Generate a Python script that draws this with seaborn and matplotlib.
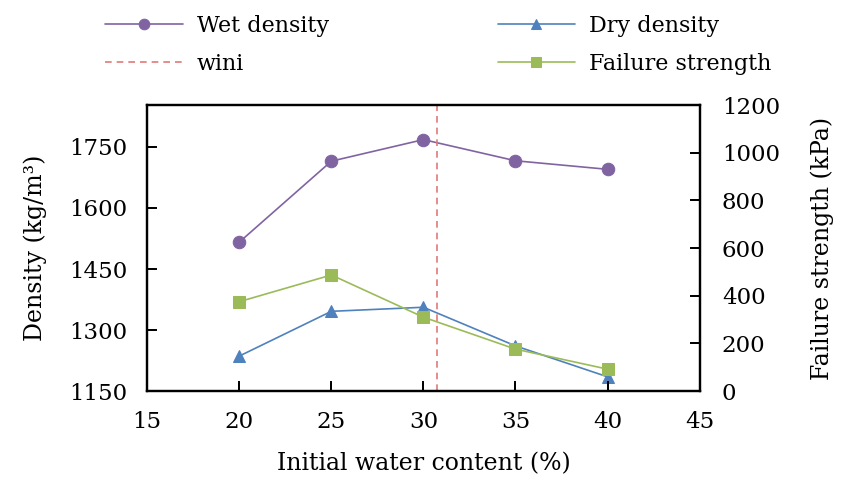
import matplotlib
matplotlib.use("Agg")
import matplotlib.pyplot as plt
import seaborn as sns
import pandas as pd

water = [20, 25, 30, 35, 40]
wet_density = [1516, 1715, 1768, 1716, 1695]
dry_density = [1236, 1346, 1356, 1261, 1185]
failure_strength = [375, 487, 310, 176, 92]
w_ini = 30.72

x_ticks = [15, 20, 25, 30, 35, 40, 45]
left_ticks = [1150, 1300, 1450, 1600, 1750]
right_ticks = [0, 200, 400, 600, 800, 1000, 1200]

sns.set_theme(style="ticks")
plt.rcParams['font.family'] = ['DejaVu Serif']
plt.rcParams['text.color'] = 'black'
plt.rcParams['axes.labelcolor'] = 'black'
plt.rcParams['axes.axisbelow'] = False

df = pd.DataFrame({"w": water, "wet": wet_density, "dry": dry_density, "fs": failure_strength})

fig = plt.figure(figsize=(8.46, 4.84), dpi=100)
ax = fig.add_axes([0.174, 0.192, 0.653, 0.591])
ax2 = ax.twinx()

sns.lineplot(data=df, x="w", y="wet", ax=ax, color="#8064A2", marker="o", markersize=9,
             markeredgecolor="#8064A2", linewidth=1.2, label="Wet density", legend=False)
sns.lineplot(data=df, x="w", y="dry", ax=ax, color="#4F81BD", marker="^", markersize=9,
             markeredgecolor="#4F81BD", linewidth=1.2, label="Dry density", legend=False)
vl = ax.axvline(w_ini, color="#E07A78", linestyle=(0, (4, 3)), linewidth=1.2, label="wini")
sns.lineplot(data=df, x="w", y="fs", ax=ax2, color="#9BBB59", marker="s", markersize=9,
             markeredgecolor="#9BBB59", linewidth=1.2, label="Failure strength", legend=False)

h1 = list(ax.get_lines())
h2 = list(ax2.get_lines())

ax.set_xlim(15, 45)
ax.set_ylim(1150, 1853)
ax2.set_ylim(0, 1200)
ax.set_xticks(x_ticks)
ax.set_yticks(left_ticks)
ax2.set_yticks(right_ticks)
ax.set_xlabel("Initial water content (%)", fontsize=17, labelpad=14)
ax.set_ylabel("Density (kg/m³)", fontsize=17, labelpad=16)
ax2.set_ylabel("Failure strength (kPa)", fontsize=17, labelpad=22)

for a in (ax, ax2):
    for s in a.spines.values():
        s.set_color("black")
        s.set_linewidth(1.6)
ax.tick_params(axis="x", which="major", direction="in", length=7, width=1.4, color="black",
               labelcolor="black", bottom=True, top=False, labelsize=16.5, pad=14)
ax.tick_params(axis="y", which="major", direction="in", length=7, width=1.4, color="black",
               labelcolor="black", left=True, right=False, labelsize=16.5, pad=14)
ax2.tick_params(axis="y", which="major", direction="in", length=7, width=1.4, color="black",
                labelcolor="black", right=True, left=False, labelsize=16.5, pad=16)

# explicit inward tick marks (fallback so they are always drawn)
for v in x_ticks[1:-1]:
    ax.axvline(v, ymin=0, ymax=0.025, color="black", linewidth=1.4, zorder=6)
for v in left_ticks[1:]:
    ax.axhline(v, xmin=0, xmax=0.013, color="black", linewidth=1.4, zorder=6)
for v in right_ticks[1:-1]:
    ax2.axhline(v, xmin=0.987, xmax=1, color="black", linewidth=1.4, zorder=6)

handles = [h1[0], h1[1], vl, h2[0]]
labels = ["Wet density", "Dry density", "wini", "Failure strength"]
order = [0, 2, 1, 3]
fig.legend([handles[i] for i in order], [labels[i] for i in order], ncol=2, frameon=False,
           loc="upper left", bbox_to_anchor=(0.101, 1.01), fontsize=16, columnspacing=7.6,
           handlelength=3.5, handletextpad=0.6, labelspacing=0.7, markerscale=0.85)

fig.savefig("out.png", dpi=100)
